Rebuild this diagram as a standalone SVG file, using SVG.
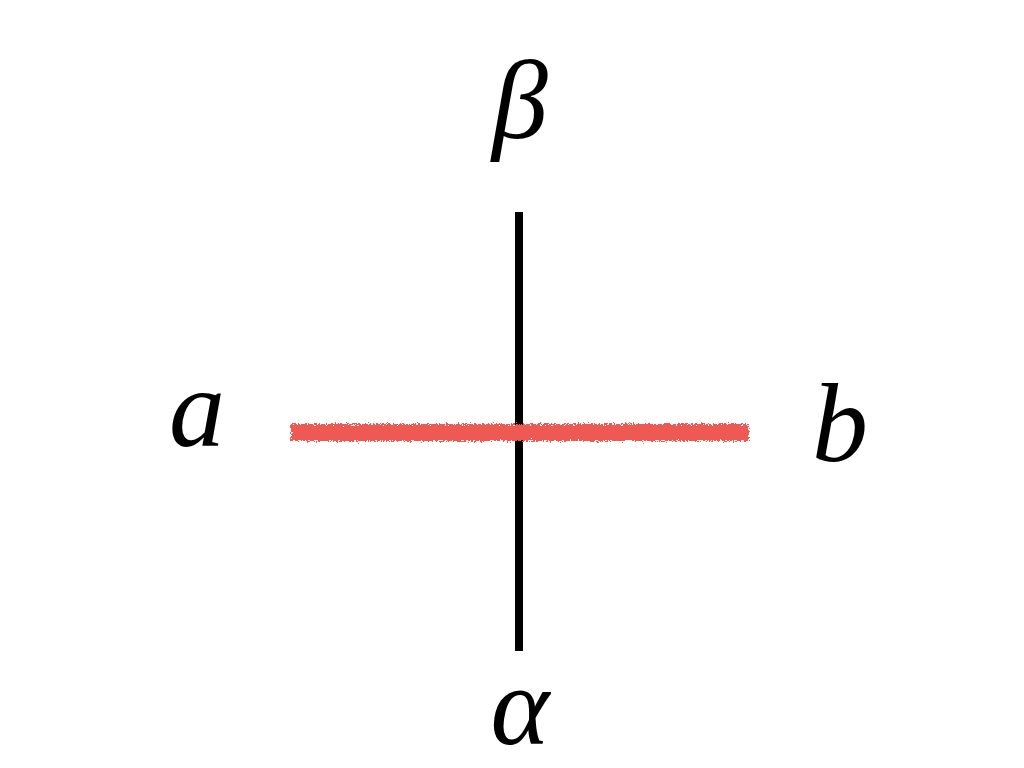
<svg xmlns="http://www.w3.org/2000/svg" width="1024" height="768" viewBox="0 0 1024 768">
<defs>
<filter id="rough" filterUnits="userSpaceOnUse" x="270" y="400" width="500" height="70">
<feTurbulence type="fractalNoise" baseFrequency="0.6" numOctaves="2" seed="3" result="n"/>
<feDisplacementMap in="SourceGraphic" in2="n" scale="8" xChannelSelector="R" yChannelSelector="G"/>
</filter>
<style>
.lbl{font-family:"Liberation Serif","DejaVu Serif",serif;font-style:italic;font-size:112px;fill:#000;text-anchor:middle}
</style>
</defs>
<rect width="1024" height="768" fill="#fff"/>
<g id="connectors">
<line id="vline" x1="519" y1="212" x2="519" y2="651" stroke="#000" stroke-width="8"/>
<rect id="hline" x="291" y="424" width="458" height="17" fill="#ee5a52" filter="url(#rough)"/>
</g>
<g id="node-a"><text class="lbl" x="197" y="446">a</text></g>
<g id="node-b"><text class="lbl" x="840" y="461">b</text></g>
<g id="node-beta"><text class="lbl" x="520" y="138">β</text></g>
<g id="node-alpha"><text class="lbl" x="520" y="744">α</text></g>
</svg>
